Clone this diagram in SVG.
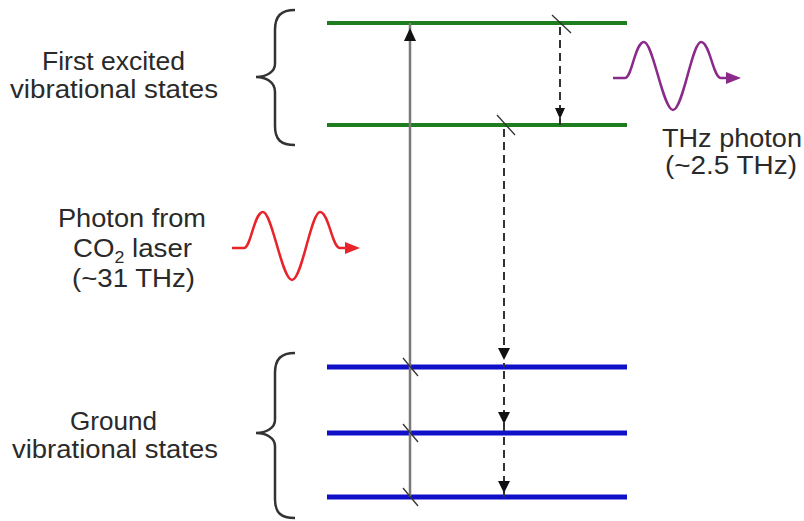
<svg xmlns="http://www.w3.org/2000/svg" width="804" height="521" viewBox="0 0 804 521">
<style>
text{font-family:"Liberation Sans",Arial,sans-serif;font-size:25px;fill:#2a2a2a}
.green{stroke:#1e7d1e;stroke-width:4;fill:none}
.blue{stroke:#1010c8;stroke-width:5;fill:none}
.brace{stroke:#333;stroke-width:2.5;fill:none}
.solid{stroke:#7a7a7a;stroke-width:2.5;fill:none}
.dash{stroke:#333;stroke-width:2;stroke-dasharray:8 5;fill:none}
.slash{stroke:#333;stroke-width:1.3;fill:none}
.head{fill:#111}
</style>
<rect width="804" height="521" fill="#fff"/>

<g id="excited-upper"><line class="green" x1="327" y1="23" x2="627" y2="23"/></g>
<g id="excited-lower"><line class="green" x1="327" y1="125" x2="627" y2="125"/></g>
<g id="ground-1"><line class="blue" x1="327" y1="367" x2="627" y2="367"/></g>
<g id="ground-2"><line class="blue" x1="327" y1="433" x2="627" y2="433"/></g>
<g id="ground-3"><line class="blue" x1="327" y1="497" x2="627" y2="497"/></g>

<g id="brace-excited">
<path class="brace" d="M295,10 C281,10 275,16 275,30 L275,64 C275,72 266,77 256,77 C266,77 275,82 275,92 L275,126 C275,140 281,145 295,145"/>
<text x="42" y="70" textLength="143" lengthAdjust="spacingAndGlyphs">First excited</text>
<text x="10" y="98" textLength="208" lengthAdjust="spacingAndGlyphs">vibrational states</text>
</g>

<g id="brace-ground">
<path class="brace" d="M295,353 C281,353 275,359 275,373 L275,420 C275,428 266,433 256,433 C266,433 275,438 275,446 L275,499 C275,513 281,518 295,518"/>
<text x="70" y="430" textLength="87" lengthAdjust="spacingAndGlyphs">Ground</text>
<text x="12" y="458" textLength="206" lengthAdjust="spacingAndGlyphs">vibrational states</text>
</g>

<g id="co2-photon">
<path d="M232,248 L244,248 C251,248 254,212 263,212 C272,212 282,280 292,280 C302,280 311,212 320,212 C329,212 332,248 340,248 L350,248" stroke="#e8232a" stroke-width="2.5" fill="none"/>
<polygon points="345,242 360,248 345,254" fill="#e8232a"/>
<text x="58" y="227" textLength="148" lengthAdjust="spacingAndGlyphs">Photon from</text>
<text x="73" y="257" textLength="119" lengthAdjust="spacingAndGlyphs">CO<tspan dy="6" style="font-size:16px">2</tspan><tspan dy="-6"> laser</tspan></text>
<text x="72" y="287" textLength="123" lengthAdjust="spacingAndGlyphs">(~31 THz)</text>
</g>

<g id="thz-photon">
<path d="M613,78 L625,78 C632,78 635,42 644,42 C653,42 663,110 673,110 C683,110 692,42 701,42 C710,42 713,78 721,78 L731,78" stroke="#8a2a8a" stroke-width="2.5" fill="none"/>
<polygon points="726,72 741,78 726,84" fill="#8a2a8a"/>
<text x="662" y="147" textLength="140" lengthAdjust="spacingAndGlyphs">THz photon</text>
<text x="665" y="174" textLength="132" lengthAdjust="spacingAndGlyphs">(~2.5 THz)</text>
</g>

<g id="connectors">
<line class="solid" x1="410" y1="497" x2="410" y2="23"/>
<polygon class="head" points="410,28 404,41 416,41"/>
<line class="slash" x1="403" y1="358" x2="418" y2="376"/>
<line class="slash" x1="403" y1="424" x2="418" y2="442"/>
<line class="slash" x1="403" y1="488" x2="418" y2="506"/>

<line class="dash" x1="560" y1="27" x2="560" y2="125"/>
<polygon class="head" points="560,119 555,108 565,108"/>
<line class="slash" x1="552" y1="15" x2="571" y2="33"/>

<line class="dash" x1="504" y1="129" x2="504" y2="367"/>
<polygon class="head" points="504,360 498,348 510,348"/>
<line class="slash" x1="497" y1="115" x2="515" y2="135"/>

<line class="dash" x1="504" y1="371" x2="504" y2="433"/>
<polygon class="head" points="504,424 498,412 510,412"/>

<line class="dash" x1="504" y1="437" x2="504" y2="497"/>
<polygon class="head" points="504,493 498,481 510,481"/>
</g>
</svg>
